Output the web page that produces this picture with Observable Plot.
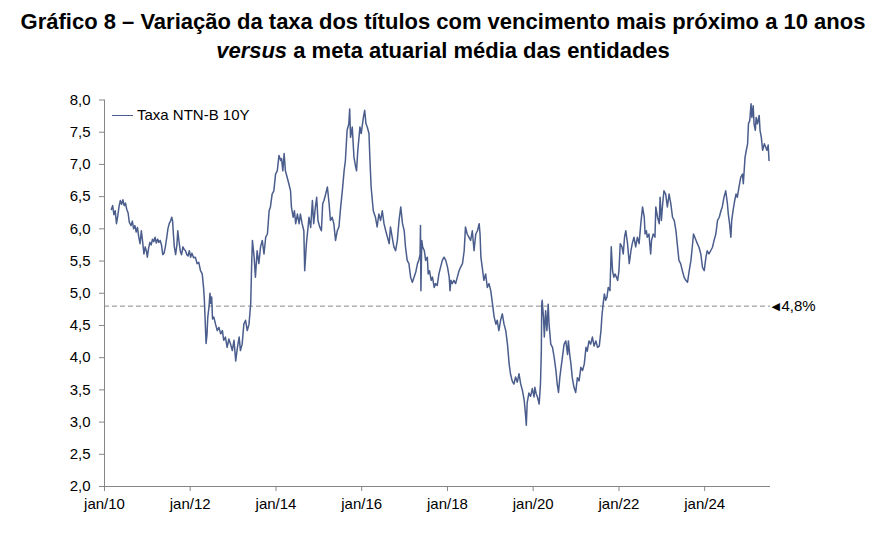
<!DOCTYPE html>
<html lang="pt-BR">
<head>
<meta charset="utf-8">
<script src="https://cdn.jsdelivr.net/npm/d3@7"></script>
<script src="https://cdn.jsdelivr.net/npm/@observablehq/plot@0.6"></script>
<style>
  html, body { margin: 0; padding: 0; background: #fff; }
  #grafico { position: relative; width: 886px; height: 535px; font-family: "Liberation Sans", Arial, sans-serif; }
  #titulo {
    position: absolute; left: 0; top: 0; width: 886px;
    padding-top: 7px; text-align: center;
    font-family: "Liberation Sans", Arial, sans-serif;
    font-weight: bold; font-size: 22px; line-height: 29px; color: #000;
  }
  #plot { position: absolute; left: 0; top: 70px; }
  #legenda {
    position: absolute; left: 112px; top: 106px;
    font-size: 15px; line-height: 18px; color: #000; white-space: nowrap;
  }
  #legenda .traco {
    display: inline-block; width: 21px; height: 0; border-top: 1.5px solid #4a5d8c;
    vertical-align: middle; margin-right: 4px; position: relative; top: -1px;
  }
</style>
</head>
<body>
<div id="grafico">
  <div id="titulo">Gráfico 8 – Variação da taxa dos títulos com vencimento mais próximo a 10 anos<br><i>versus</i> a meta atuarial média das entidades</div>
  <div id="plot"></div>
  <div id="legenda"><span class="traco"></span>Taxa NTN-B 10Y</div>
</div>
<script>
// Taxa NTN-B 10Y (% a.a.), pares [ano decimal, taxa]
const taxa2010 = [[2010.16,6.30],[2010.19,6.36],[2010.22,6.22],[2010.25,6.28],[2010.28,6.08],[2010.31,6.20],[2010.34,6.35],[2010.37,6.44],[2010.40,6.38],[2010.43,6.45],[2010.46,6.36],[2010.49,6.40],[2010.52,6.30],[2010.55,6.25],[2010.58,6.10],[2010.62,6.05],[2010.65,6.12],[2010.68,6.00],[2010.71,6.05],[2010.74,5.95],[2010.77,6.02],[2010.80,5.87],[2010.83,5.77],[2010.86,5.97],[2010.89,5.80],[2010.92,5.61],[2010.95,5.72],[2010.98,5.65]];
const taxa2011 = [[2011.00,5.56],[2011.03,5.70],[2011.06,5.79],[2011.09,5.75],[2011.12,5.84],[2011.15,5.80],[2011.18,5.87],[2011.21,5.78],[2011.24,5.84],[2011.27,5.79],[2011.30,5.82],[2011.33,5.75],[2011.36,5.60],[2011.39,5.62],[2011.42,5.72],[2011.45,5.85],[2011.48,6.00],[2011.51,6.08],[2011.54,6.12],[2011.57,6.18],[2011.59,6.12],[2011.61,5.90],[2011.63,5.72],[2011.66,5.60],[2011.69,5.75],[2011.71,5.97],[2011.74,5.80],[2011.77,5.65],[2011.80,5.60],[2011.83,5.72],[2011.86,5.68],[2011.89,5.66],[2011.92,5.60],[2011.95,5.58],[2011.98,5.66]];
const taxa2012 = [[2012.01,5.56],[2012.04,5.62],[2012.08,5.55],[2012.12,5.56],[2012.16,5.46],[2012.20,5.48],[2012.24,5.35],[2012.28,5.30],[2012.31,5.10],[2012.33,4.90],[2012.35,4.55],[2012.37,4.22],[2012.39,4.35],[2012.41,4.63],[2012.44,4.80],[2012.46,5.00],[2012.48,4.84],[2012.50,4.94],[2012.52,4.60],[2012.55,4.63],[2012.59,4.52],[2012.63,4.42],[2012.67,4.47],[2012.71,4.37],[2012.75,4.42],[2012.78,4.27],[2012.82,4.32],[2012.86,4.16],[2012.90,4.29],[2012.94,4.21],[2012.98,4.11]];
const taxa2013 = [[2013.02,4.27],[2013.06,3.95],[2013.10,4.16],[2013.14,4.32],[2013.17,4.11],[2013.21,4.21],[2013.25,4.52],[2013.29,4.58],[2013.33,4.42],[2013.37,4.52],[2013.41,4.84],[2013.43,5.40],[2013.45,5.82],[2013.49,5.56],[2013.52,5.25],[2013.56,5.66],[2013.60,5.46],[2013.64,5.72],[2013.68,5.82],[2013.72,5.61],[2013.76,5.87],[2013.80,5.92],[2013.84,6.28],[2013.87,6.34],[2013.91,6.54],[2013.95,6.59],[2013.99,6.85]];
const taxa2014 = [[2014.03,6.90],[2014.07,7.14],[2014.11,7.06],[2014.13,7.09],[2014.16,6.90],[2014.19,7.17],[2014.22,6.90],[2014.26,6.80],[2014.30,6.70],[2014.34,6.59],[2014.36,6.34],[2014.40,6.18],[2014.43,6.28],[2014.46,6.08],[2014.50,6.23],[2014.54,6.08],[2014.57,6.23],[2014.61,6.08],[2014.65,5.97],[2014.67,5.35],[2014.71,5.77],[2014.74,5.97],[2014.77,6.18],[2014.81,6.02],[2014.85,6.44],[2014.88,6.08],[2014.92,6.34],[2014.95,6.49],[2014.98,6.13]];
const taxa2015 = [[2015.02,6.03],[2015.06,5.97],[2015.09,6.39],[2015.12,6.44],[2015.16,6.54],[2015.20,6.65],[2015.24,6.39],[2015.27,6.13],[2015.31,6.18],[2015.35,6.08],[2015.39,5.82],[2015.43,5.97],[2015.47,6.03],[2015.51,6.34],[2015.55,6.60],[2015.59,6.90],[2015.62,7.06],[2015.66,7.53],[2015.70,7.63],[2015.72,7.86],[2015.74,7.42],[2015.78,7.58],[2015.82,7.11],[2015.86,6.96],[2015.88,6.90],[2015.91,7.22],[2015.96,7.58],[2015.99,7.48]];
const taxa2016 = [[2016.04,7.73],[2016.07,7.84],[2016.10,7.63],[2016.13,7.58],[2016.17,7.48],[2016.19,7.11],[2016.22,6.65],[2016.27,6.28],[2016.32,6.18],[2016.36,6.03],[2016.40,6.23],[2016.44,6.13],[2016.48,6.28],[2016.52,6.08],[2016.56,5.97],[2016.60,5.87],[2016.64,5.77],[2016.67,6.03],[2016.71,5.87],[2016.75,5.72],[2016.79,5.66],[2016.83,5.82],[2016.87,6.13],[2016.91,6.34],[2016.95,6.08],[2016.99,5.97]];
const taxa2017 = [[2017.02,5.72],[2017.06,5.51],[2017.10,5.46],[2017.14,5.25],[2017.18,5.17],[2017.22,5.25],[2017.26,5.33],[2017.30,5.46],[2017.33,5.51],[2017.36,5.60],[2017.37,6.05],[2017.38,5.04],[2017.40,5.82],[2017.42,5.72],[2017.46,5.66],[2017.49,5.51],[2017.53,5.56],[2017.55,5.30],[2017.58,5.35],[2017.62,5.20],[2017.65,5.25],[2017.69,5.09],[2017.72,5.15],[2017.76,5.12],[2017.80,5.30],[2017.84,5.41],[2017.88,5.51],[2017.92,5.56],[2017.96,5.51]];
const taxa2018 = [[2018.00,5.41],[2018.04,5.25],[2018.06,5.04],[2018.08,5.20],[2018.11,5.15],[2018.15,5.20],[2018.19,5.15],[2018.23,5.25],[2018.27,5.35],[2018.31,5.41],[2018.35,5.46],[2018.39,5.66],[2018.42,6.03],[2018.46,5.92],[2018.50,5.87],[2018.54,5.82],[2018.58,5.97],[2018.62,5.66],[2018.66,5.92],[2018.70,5.97],[2018.74,6.08],[2018.76,5.92],[2018.78,5.56],[2018.81,5.41],[2018.85,5.20],[2018.89,5.30],[2018.93,5.09],[2018.97,5.15]];
const taxa2019 = [[2019.01,5.04],[2019.05,4.84],[2019.09,4.63],[2019.13,4.52],[2019.16,4.58],[2019.20,4.42],[2019.24,4.58],[2019.28,4.68],[2019.32,4.52],[2019.36,4.42],[2019.40,4.21],[2019.44,3.90],[2019.47,3.75],[2019.51,3.64],[2019.55,3.59],[2019.59,3.70],[2019.63,3.62],[2019.67,3.75],[2019.71,3.59],[2019.75,3.49],[2019.79,3.34],[2019.82,3.13],[2019.84,2.95],[2019.86,3.30],[2019.90,3.45],[2019.94,3.40],[2019.98,3.52]];
const taxa2020 = [[2020.02,3.39],[2020.04,3.54],[2020.07,3.44],[2020.10,3.39],[2020.14,3.28],[2020.17,3.59],[2020.19,4.10],[2020.20,4.83],[2020.21,4.89],[2020.24,4.63],[2020.26,4.32],[2020.29,4.73],[2020.32,4.42],[2020.35,4.83],[2020.37,4.52],[2020.41,4.21],[2020.45,4.16],[2020.49,4.00],[2020.53,3.80],[2020.56,3.59],[2020.59,3.46],[2020.62,3.69],[2020.65,3.85],[2020.68,4.00],[2020.72,4.21],[2020.76,4.26],[2020.80,4.05],[2020.82,4.26],[2020.85,4.05],[2020.88,3.90],[2020.91,3.69],[2020.95,3.54],[2020.99,3.46]];
const taxa2021 = [[2021.03,3.69],[2021.07,3.64],[2021.11,3.85],[2021.15,3.80],[2021.19,3.90],[2021.23,4.16],[2021.26,4.10],[2021.30,4.26],[2021.34,4.21],[2021.38,4.32],[2021.42,4.18],[2021.46,4.26],[2021.50,4.16],[2021.54,4.18],[2021.58,4.42],[2021.60,4.63],[2021.63,4.83],[2021.66,4.99],[2021.69,4.89],[2021.72,4.94],[2021.75,5.09],[2021.79,5.04],[2021.82,5.72],[2021.85,5.35],[2021.88,5.25],[2021.91,5.30],[2021.94,5.25],[2021.97,5.20]];
const taxa2022 = [[2022.00,5.35],[2022.03,5.77],[2022.07,5.72],[2022.10,5.61],[2022.13,5.87],[2022.16,5.97],[2022.20,5.77],[2022.24,5.46],[2022.28,5.66],[2022.31,5.77],[2022.35,5.87],[2022.39,5.72],[2022.43,5.87],[2022.47,5.77],[2022.51,6.08],[2022.55,6.34],[2022.59,6.18],[2022.61,5.92],[2022.64,5.97],[2022.66,5.87],[2022.70,5.92],[2022.74,5.61],[2022.76,5.82],[2022.80,5.92],[2022.84,5.87],[2022.86,6.34],[2022.90,6.18],[2022.94,6.08],[2022.96,6.49],[2022.99,6.13]];
const taxa2023 = [[2023.02,6.39],[2023.05,6.59],[2023.09,6.54],[2023.13,6.34],[2023.17,6.54],[2023.21,6.39],[2023.25,6.18],[2023.29,6.13],[2023.33,5.97],[2023.36,5.77],[2023.40,5.51],[2023.44,5.46],[2023.48,5.35],[2023.52,5.25],[2023.56,5.20],[2023.60,5.17],[2023.64,5.35],[2023.68,5.51],[2023.71,5.71],[2023.74,5.92],[2023.77,5.87],[2023.80,5.82],[2023.83,5.77],[2023.87,5.71],[2023.91,5.61],[2023.95,5.40],[2023.99,5.35]];
const taxa2024 = [[2024.03,5.56],[2024.06,5.66],[2024.10,5.61],[2024.14,5.66],[2024.18,5.71],[2024.22,5.82],[2024.26,5.92],[2024.30,6.13],[2024.34,6.18],[2024.38,6.28],[2024.41,6.34],[2024.45,6.49],[2024.49,6.59],[2024.53,6.39],[2024.55,6.23],[2024.58,6.08],[2024.61,5.87],[2024.63,6.13],[2024.66,6.28],[2024.70,6.44],[2024.73,6.54],[2024.76,6.49],[2024.80,6.65],[2024.84,6.80],[2024.88,6.85],[2024.90,6.70],[2024.94,7.11],[2024.97,7.22]];
const taxa2025 = [[2025.00,7.32],[2025.02,7.63],[2025.05,7.68],[2025.08,7.94],[2025.10,7.73],[2025.13,7.91],[2025.15,7.63],[2025.18,7.53],[2025.20,7.73],[2025.23,7.63],[2025.27,7.76],[2025.29,7.53],[2025.32,7.42],[2025.35,7.22],[2025.39,7.32],[2025.42,7.27],[2025.45,7.22],[2025.48,7.30],[2025.50,7.06]];

// Meta atuarial média das entidades (% a.a.)
const metaAtuarial = 4.8;

// Eixos
const ticksY = [2.0, 2.5, 3.0, 3.5, 4.0, 4.5, 5.0, 5.5, 6.0, 6.5, 7.0, 7.5, 8.0];
const anosX = [2010, 2012, 2014, 2016, 2018, 2020, 2022, 2024];
const rotulosX = ["jan/10", "jan/12", "jan/14", "jan/16", "jan/18", "jan/20", "jan/22", "jan/24"];
const inicioEixo = new Date(Date.UTC(2010, 0, 1));
const fimEixo = new Date(Date.UTC(2025, 6, 15));

// ano decimal -> Date (UTC)
function paraData(t) {
  const a = Math.floor(t);
  const ini = Date.UTC(a, 0, 1), fim = Date.UTC(a + 1, 0, 1);
  return new Date(ini + (t - a) * (fim - ini));
}

const serie = [taxa2010, taxa2011, taxa2012, taxa2013, taxa2014, taxa2015, taxa2016, taxa2017,
  taxa2018, taxa2019, taxa2020, taxa2021, taxa2022, taxa2023, taxa2024, taxa2025]
  .flat()
  .map(([t, v]) => ({data: paraData(t), taxa: v}));

const datasX = anosX.map(a => new Date(Date.UTC(a, 0, 1)));
const rotuloPorAno = new Map(anosX.map((a, i) => [a, rotulosX[i]]));
const virgula = d => d.toFixed(1).replace(".", ",");

const corLinha = "#4a5d8c";
const corEixo = "#868686";

const chart = Plot.plot({
  width: 886,
  height: 465,
  marginTop: 29.5,
  marginBottom: 49,
  marginLeft: 104,
  marginRight: 116,
  style: {fontFamily: "'Liberation Sans', Arial, sans-serif", fontSize: "15px", color: "#000", background: "#fff"},
  x: {type: "utc", domain: [inicioEixo, fimEixo], label: null},
  y: {domain: [2, 8], label: null},
  marks: [
    Plot.ruleY([metaAtuarial], {stroke: "#8a8a8a", strokeWidth: 1, strokeDasharray: "5,3"}),
    Plot.line(serie, {x: "data", y: "taxa", stroke: corLinha, strokeWidth: 1.5}),
    Plot.ruleX([inicioEixo], {stroke: corEixo}),
    Plot.ruleY([2], {stroke: corEixo}),
    Plot.axisY({ticks: ticksY, tickSize: 5, tickPadding: 9, tickFormat: virgula, stroke: corEixo, fill: "#000",
      fontSize: 15, label: null}),
    Plot.axisX({ticks: datasX, tickSize: 5, tickPadding: 7, tickFormat: d => rotuloPorAno.get(d.getUTCFullYear()),
      stroke: corEixo, fill: "#000", fontSize: 15, label: null}),
    Plot.text([metaAtuarial], {x: fimEixo, y: d => d, text: () => "◀", textAnchor: "start", dx: 1, fontSize: 11,
      fontFamily: "DejaVu Sans", fill: "#000"}),
    Plot.text([metaAtuarial], {x: fimEixo, y: d => d, text: d => virgula(d) + "%", textAnchor: "start", dx: 11,
      fontSize: 15, fill: "#000"})
  ]
});

document.getElementById("plot").appendChild(chart);
</script>
</body>
</html>
